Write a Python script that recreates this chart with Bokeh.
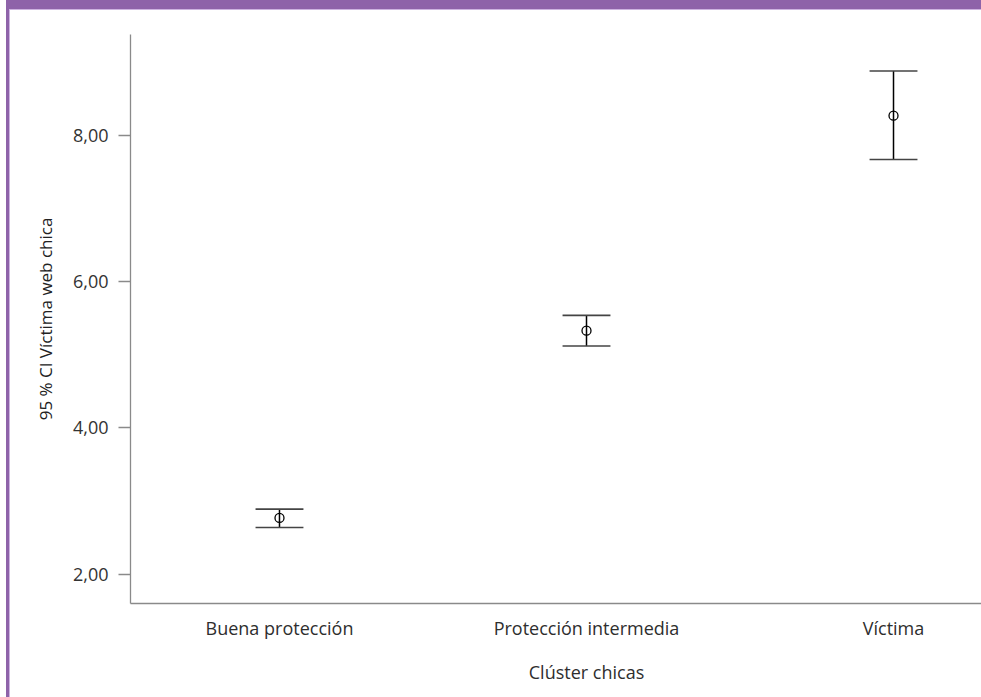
from bokeh.plotting import figure
from bokeh.models import FixedTicker, Range1d
from bokeh.embed import file_html
from bokeh.resources import INLINE

categories = ["Buena protección", "Protección intermedia", "Víctima"]
means = [2.77, 5.33, 8.27]
lower = [2.64, 5.12, 7.67]
upper = [2.89, 5.54, 8.88]
y_ticks = [2, 4, 6, 8]
y_tick_labels = ["2,00", "4,00", "6,00", "8,00"]
x_title = "Clúster chicas"
y_title = "95 % CI Víctima web chica"

FONT = "Open Sans"
positions = list(range(1, len(categories) + 1))
cap_half = 0.078

frame_style = {
    "box-shadow": ("inset 6px 0 0 0 #ffffff, inset 9px 0 0 0 #8e63a9, "
                   "inset 0 9px 0 0 #8e63a9, inset 10px 0 0 0 #cdb4e0, "
                   "inset 0 10px 0 0 #cdb4e0")
}

p = figure(width=981, height=697, output_backend="svg", toolbar_location=None,
           x_range=Range1d(0.5147, 3.2866), y_range=Range1d(1.60, 9.38),
           min_border_left=130, min_border_right=0, min_border_top=34, min_border_bottom=94,
           styles=frame_style)
p.border_fill_color = None
p.background_fill_color = "white"
p.outline_line_color = None
p.xgrid.visible = False
p.ygrid.visible = False

# error bars
p.segment(x0=positions, y0=lower, x1=positions, y1=upper, line_color="black", line_width=1.5)
p.segment(x0=[x - cap_half for x in positions], x1=[x + cap_half for x in positions],
          y0=upper, y1=upper, line_color="#444444", line_width=1.6)
p.segment(x0=[x - cap_half for x in positions], x1=[x + cap_half for x in positions],
          y0=lower, y1=lower, line_color="#444444", line_width=1.6)
p.scatter(x=positions, y=means, marker="circle", size=9, fill_color=None,
          line_color="black", line_width=1.3)

# x axis: the axis title sits under the middle category, as in the reference
xa = p.xaxis[0]
xa.ticker = FixedTicker(ticks=positions)
overrides = {pos: c for pos, c in zip(positions, categories)}
overrides[2] = categories[1] + "\n\n" + x_title
xa.major_label_overrides = overrides
xa.major_tick_in = 0
xa.major_tick_out = 0
xa.minor_tick_line_color = None
xa.axis_line_color = "#8a8a8a"
xa.axis_line_width = 1.3
xa.major_label_standoff = 12
xa.major_label_text_font = FONT
xa.major_label_text_font_size = "18px"
xa.major_label_text_color = "#2e2e2e"
xa.major_label_text_line_height = 0.92

ya = p.yaxis[0]
ya.ticker = FixedTicker(ticks=y_ticks)
ya.major_label_overrides = {t: l for t, l in zip(y_ticks, y_tick_labels)}
ya.major_tick_in = 0
ya.major_tick_out = 12
ya.major_tick_line_color = "#8a8a8a"
ya.major_tick_line_width = 1.3
ya.minor_tick_line_color = None
ya.axis_line_color = "#8a8a8a"
ya.axis_line_width = 1.3
ya.major_label_standoff = 10
ya.major_label_text_font = FONT
ya.major_label_text_font_size = "18px"
ya.major_label_text_color = "#333333"
ya.axis_label = y_title
ya.axis_label_text_font = FONT
ya.axis_label_text_font_size = "17px"
ya.axis_label_text_font_style = "normal"
ya.axis_label_text_color = "#222222"
ya.axis_label_standoff = 13

open("out.html", "w").write(file_html(p, INLINE))
